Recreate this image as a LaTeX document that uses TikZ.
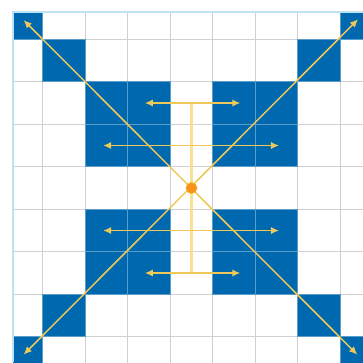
\documentclass[tikz,border=0pt]{standalone}
\usepackage{tikz}
\usetikzlibrary{arrows.meta}
\usepackage{xcolor}
\definecolor{cellblue}{RGB}{0,104,175}
\definecolor{gridgray}{RGB}{208,208,208}
\definecolor{edgeblue}{RGB}{188,226,244}
\definecolor{raycolor}{RGB}{238,200,88}
\definecolor{rungcolor}{RGB}{250,224,150}
\definecolor{dotcolor}{RGB}{247,146,30}

\begin{document}
\begin{tikzpicture}[
  gridline/.style={gridgray, line width=0.6pt},
  cell/.style={fill=cellblue, draw=cellblue!65!white, line width=0.6pt},
  ray/.style={raycolor, line width=1pt, {Latex[length=1.9mm,width=1.7mm]}-{Latex[length=1.9mm,width=1.7mm]}},
  rung/.style={rungcolor, line width=2.2pt},
  centre/.style={circle, fill=dotcolor, draw=dotcolor!70!yellow, line width=0.4pt, minimum size=0.26cm, inner sep=0pt},
]
\useasboundingbox (-4.506,-4.094) rectangle (4.035,4.424);

% ---------- grid ----------
\begin{scope}
  \clip (-4.2,-4.094) rectangle (4.035,4.14);
  \foreach \x in {-3.5,-2.5,...,3.5}
    \draw[gridline] (\x,-4.2) -- (\x,4.2);
  \foreach \y in {-3.5,-2.5,...,3.5}
    \draw[gridline] (-4.3,\y) -- (4.1,\y);

  % ---------- blue cells ----------
  \foreach \cx/\cy in {-4/4, 4/4, -4/-4, 4/-4, -3/3, 3/3, -3/-3, 3/-3,
                       -2/2, -1/2, -2/1, -1/1, 1/2, 2/2, 1/1, 2/1,
                       -2/-1, -1/-1, -2/-2, -1/-2, 1/-1, 2/-1, 1/-2, 2/-2}
    \draw[cell] (\cx-0.5,\cy-0.5) rectangle (\cx+0.5,\cy+0.5);
\end{scope}

% left and top border of the board
\draw[edgeblue, line width=1.4pt] (-4.2,-4.094) -- (-4.2,4.14) -- (4.035,4.14);

% ---------- end points ----------
\coordinate (tl) at (-3.95,3.95);
\coordinate (tr) at (3.92,3.97);
\coordinate (bl) at (-3.95,-3.92);
\coordinate (br) at (3.9,-3.92);
\coordinate (a2l) at (-1.1,2);    \coordinate (a2r) at (1.15,2);
\coordinate (a1l) at (-2.08,1);   \coordinate (a1r) at (2.06,1);
\coordinate (b1l) at (-2.08,-1);  \coordinate (b1r) at (2.06,-1);
\coordinate (b2l) at (-1.1,-2);   \coordinate (b2r) at (1.15,-2);
\coordinate (top) at (0,2);
\coordinate (bot) at (0,-2);

% ---------- ladder ----------
\draw[rung] (top) -- (bot);
\draw[ray] (a2l) -- (a2r);
\draw[ray] (a1l) -- (a1r);
\draw[ray] (b1l) -- (b1r);
\draw[ray] (b2l) -- (b2r);

% ---------- diagonals ----------
\draw[ray] (tl) -- (br);
\draw[ray] (bl) -- (tr);

\node[centre] (mid) at (0,0) {};

\end{tikzpicture}
\end{document}
